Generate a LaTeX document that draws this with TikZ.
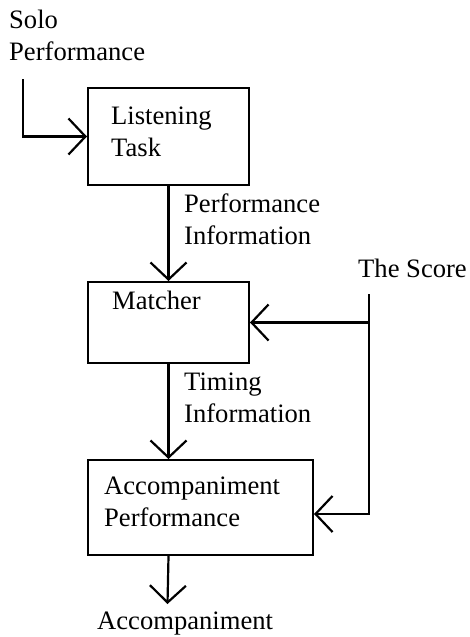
\documentclass[tikz,border=0pt]{standalone}
\usepackage{fontspec}
\setmainfont{Liberation Serif}
\usetikzlibrary{positioning,arrows.meta}
\tikzset{
  blk/.style = {draw, line width=2pt, anchor=north west, inner sep=0pt},
  txt/.style = {align=left, anchor=base west, inner sep=0pt},
  ar/.style  = {-{Straight Barb[length=17pt, width=36pt]}, line width=2.2pt},
  ln/.style  = {line width=2.2pt},
}
\begin{document}
\begin{tikzpicture}[x=1pt, y=-1pt, font=\fontsize{26.6pt}{32pt}\selectfont]
\useasboundingbox (0,0) rectangle (469,637);

% boxes
\node[blk, minimum width=161pt, minimum height=97pt] (listen) at (87,87) {};
\node[blk, minimum width=161pt, minimum height=81pt] (match) at (87,281) {};
\node[blk, minimum width=225pt, minimum height=95pt] (accomp) at (87,459) {};

% texts (base = last line)
\node[txt] (solo) at (9,60) {Solo\\Performance};
\node[txt] (listentxt) at (111,156) {Listening\\Task};
\node[txt] (perfinfo) at (184,244) {Performance\\Information};
\node[txt] (matchtxt) at (112,309) {Matcher};
\node[txt] (timing) at (184,422) {Timing\\Information};
\node[txt] (accomptxt) at (104,526) {Accompaniment\\Performance};
\node[txt] (score) at (358,277) {The Score};
\node[txt] (accout) at (97,629) {Accompaniment};

% free ends
\coordinate (soloin) at (23,79);
\coordinate (scoretop) at (369,294);
\coordinate (scorebot) at (369,514);
\coordinate (outtip) at (167.5,604);

% connectors
\draw[ar] (soloin) |- (listen.west);
\draw[ar] (listen.south) -- (match.north);
\draw[ar] (match.south) -- (match.south |- accomp.north);
\draw[ar] (match.south |- accomp.south) -- (outtip);
\draw[ln] (scoretop) -- (scoretop |- match.east);
\draw[ar] (scoretop |- match.east) -- (match.east);
\draw[ar] (scoretop |- match.east) |- (accomp.east |- scorebot);
\end{tikzpicture}
\end{document}
